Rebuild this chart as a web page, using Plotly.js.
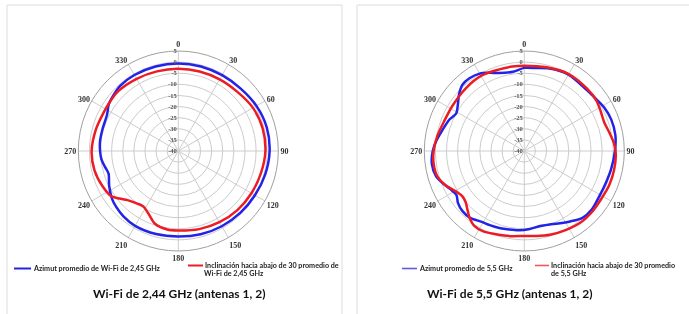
<!DOCTYPE html>
<html>
<head>
<meta charset="utf-8">
<script src="https://cdn.plot.ly/plotly-3.0.1.min.js"></script>
<style>
html,body{margin:0;padding:0;background:#ffffff;}
#chart{width:689px;height:314px;will-change:transform;}
svg text{-webkit-font-smoothing:antialiased;}
</style>
</head>
<body>
<div id="chart"></div>
<script>
// ---- axis ticks ----
const angleTicks = [0, 30, 60, 90, 120, 150, 180, 210, 240, 270, 300, 330];
const radialTicks = [-40, -35, -30, -25, -20, -15, -10, -5, 0, 5];

// ---- Wi-Fi 2,44 GHz panel ----
const wifi24AzTheta = [0,15,30,45,60,75,90,105,120,135,150,165,180,195,210,220,228,234,243,252,258,264,270,277,286,297,304,310,318,330,345,360];
const wifi24AzR     = [-0.6,-0.6,-0.6,-0.3,0.6,1.2,1.1,0.5,-0.2,-0.6,-0.9,-1.2,-1.5,-1.3,-1.1,-1.6,-2.4,-3.2,-5.1,-7.0,-6.2,-5.2,-4.8,-4.5,-4.5,-4.0,-2.3,-1.6,-0.7,-0.5,-0.6,-0.6];
const wifi24TiltTheta = [0,15,30,45,60,75,90,105,120,135,150,165,180,188,198,205,212,218,226,231,236,245,257,270,285,298,305,314,330,345,360];
const wifi24TiltR     = [-3,-3,-2.8,-2.4,-1.2,-0.7,-0.8,-1.5,-2.0,-2.4,-3,-3.6,-4.2,-4.3,-5.7,-8.6,-10.5,-10,-8.2,-6,-3.6,-2.4,-1.3,-1,-1.7,-2.2,-2.1,-1.8,-2.5,-2.9,-3];

// ---- Wi-Fi 5,5 GHz panel ----
const wifi55AzTheta = [0,8,17,30,45,55,62,70,80,90,102,111,121,131,139,147,155,161,168,176,184,191,198,205,211,219,226,232,237,243,248,254,262,270,276,283,293,299,305,311,317,323,330,336,342,352,360];
const wifi55AzR     = [-2.6,-2.3,-1.2,-0.3,-0.7,0,1.0,1.6,1.6,0.8,-0.1,-0.6,-0.6,0.2,-0.1,-2.2,-4,-5,-5.5,-4.8,-4.2,-4,-3.6,-3.2,-2.8,-1.3,-1.2,-2.1,-3.6,-2.5,-0.7,1.3,2.0,1.2,0,-1.7,-3.5,-5,-3.5,-1.1,0.8,1.0,0.2,-1.5,-3.1,-4,-2.6];
const wifi55TiltTheta = [0,15,30,45,55,63,70,78,85,92,102,112,122,132,141,152,163,172,180,188,197,207,214,219,224,229,234,239,247,254,262,270,280,290,302,317,331,343,352,360];
const wifi55TiltR     = [-1.6,-1.0,0,-0.2,-0.4,-1.3,-1.8,-0.8,0.5,1.2,1.3,1.2,0.8,1.0,1.0,0.2,-0.6,-1.4,-1.8,-1.3,-0.6,0.6,0.5,-1,-3.2,-5,-5.5,-4.4,-1.2,0.8,1.2,0.8,-0.3,-1.5,-1.8,-1.4,-1.0,-1.6,-1.6,-1.6];

// ---- texts ----
const seriesNames = [
  ["Azimut promedio de Wi-Fi de 2,45 GHz"],
  ["Inclinación hacia abajo de 30 promedio de", "Wi-Fi de 2,45 GHz"],
  ["Azimut promedio de 5,5 GHz"],
  ["Inclinación hacia abajo de 30 promedio", "de 5,5 GHz"]
];
const panelTitles = ["Wi-Fi de 2,44 GHz (antenas 1, 2)", "Wi-Fi de 5,5 GHz (antenas 1, 2)"];

const BLUE = "#2323e8";
const RED = "#ec1c24";
const W = 689, H = 314;
const px = v => v / W;
const py = v => 1 - v / H;

function trace(theta, r, color, subplot, name) {
  return {
    type: "scatterpolar", mode: "lines", theta: theta, r: r, subplot: subplot, name: name,
    line: {color: color, width: 2.5, shape: "spline", smoothing: 0.8},
    showlegend: false, hoverinfo: "skip"
  };
}

const data = [
  trace(wifi24AzTheta, wifi24AzR, BLUE, "polar", seriesNames[0].join(" ")),
  trace(wifi24TiltTheta, wifi24TiltR, RED, "polar", seriesNames[1].join(" ")),
  trace(wifi55AzTheta, wifi55AzR, BLUE, "polar2", seriesNames[2].join(" ")),
  trace(wifi55TiltTheta, wifi55TiltR, RED, "polar2", seriesNames[3].join(" "))
];

function polarLayout(cx) {
  const R = 100, cy = 151;
  return {
    domain: {x: [px(cx - R), px(cx + R)], y: [py(cy + R), py(cy - R)]},
    bgcolor: "rgba(0,0,0,0)",
    angularaxis: {
      direction: "clockwise", rotation: 90,
      tickmode: "array", tickvals: angleTicks, ticktext: angleTicks.map(String),
      ticks: "", showline: true, linecolor: "#a0a0a0", linewidth: 1,
      gridcolor: "#cccccc", gridwidth: 1,
      tickfont: {family: "Liberation Serif", size: 8, color: "#333333", weight: "bold"}
    },
    radialaxis: {
      range: [-40, 5], tickmode: "array", tickvals: radialTicks, ticktext: radialTicks.map(String),
      angle: 90, side: "counterclockwise", tickangle: 90, showline: false, ticks: "",
      gridcolor: "#cccccc", gridwidth: 1,
      tickfont: {family: "Liberation Serif", size: 6.5, color: "#555555", weight: "bold"}
    }
  };
}

const legendFont = {family: "Lato", size: 7.2, color: "#222222", weight: "bold"};
const titleFont = {family: "Lato", size: 12, color: "#111111", weight: "bold"};

// legend text positions: [x, y of first line]
const legendPos = [[32, 268.5], [203.5, 265.5], [418, 268.5], [549.5, 265.5]];
const lineGap = 7.5;

const annotations = [];
seriesNames.forEach((lines, i) => {
  lines.forEach((t, j) => {
    annotations.push({
      text: t, x: px(legendPos[i][0]), y: py(legendPos[i][1] + j * lineGap),
      xref: "paper", yref: "paper", xanchor: "left", yanchor: "middle",
      showarrow: false, font: legendFont, borderpad: 0
    });
  });
});

annotations.push(
  {text: panelTitles[0], x: px(179), y: py(293), xref: "paper", yref: "paper", xanchor: "center", yanchor: "middle", showarrow: false, font: titleFont},
  {text: panelTitles[1], x: px(510), y: py(293), xref: "paper", yref: "paper", xanchor: "center", yanchor: "middle", showarrow: false, font: titleFont}
);

const shapes = [
  {type: "rect", xref: "paper", yref: "paper", x0: px(7), x1: px(342), y0: py(330), y1: py(5), line: {color: "#dcdcdc", width: 1}},
  {type: "rect", xref: "paper", yref: "paper", x0: px(357), x1: px(710), y0: py(330), y1: py(5), line: {color: "#dcdcdc", width: 1}},
  {type: "line", xref: "paper", yref: "paper", x0: px(14), x1: px(31), y0: py(268.5), y1: py(268.5), line: {color: BLUE, width: 2}},
  {type: "line", xref: "paper", yref: "paper", x0: px(188), x1: px(203), y0: py(265.5), y1: py(265.5), line: {color: RED, width: 2}},
  {type: "line", xref: "paper", yref: "paper", x0: px(402), x1: px(417), y0: py(268.5), y1: py(268.5), line: {color: "#5a5ae8", width: 1.6}},
  {type: "line", xref: "paper", yref: "paper", x0: px(535), x1: px(549), y0: py(265.5), y1: py(265.5), line: {color: "#ee5a5a", width: 1.6}}
];

const layout = {
  width: W, height: H,
  margin: {l: 0, r: 0, t: 0, b: 0},
  paper_bgcolor: "#ffffff",
  showlegend: false,
  polar: polarLayout(178.3),
  polar2: polarLayout(524.3),
  annotations: annotations,
  shapes: shapes
};

Plotly.newPlot("chart", data, layout, {staticPlot: true, displayModeBar: false});
</script>
</body>
</html>
